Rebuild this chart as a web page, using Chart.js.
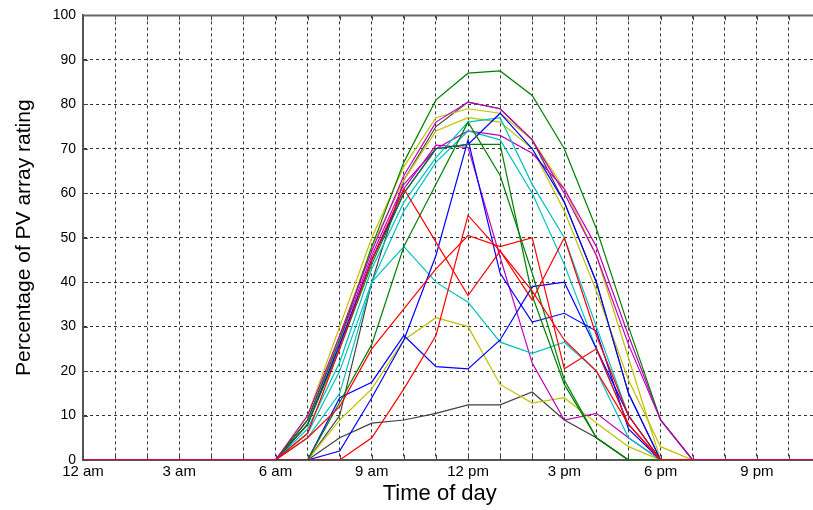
<!DOCTYPE html>
<html>
<head>
<meta charset="utf-8">
<script src="https://cdn.jsdelivr.net/npm/chart.js@4.4.1/dist/chart.umd.min.js"></script>
<style>
  html, body { margin: 0; padding: 0; background: #fff; overflow: hidden; }
  #wrap { width: 824px; height: 510px; }
</style>
</head>
<body>
<div id="wrap"><canvas id="pvChart"></canvas></div>
<script>
// hour of day, 0 = midnight
const hours = [0, 1, 2, 3, 4, 5, 6, 7, 8, 9, 10, 11, 12, 13, 14, 15, 16, 17, 18, 19, 20, 21, 22, 23];
const tickLabels = ["12 am", "3 am", "6 am", "9 am", "12 pm", "3 pm", "6 pm", "9 pm"];
const yTicks = [0, 10, 20, 30, 40, 50, 60, 70, 80, 90, 100];

// % of PV array rating, one value per hour (0..23)
const magentaHigh = [0,0,0,0,0,0, 0,10,28,47,64,76,80.5,79,72,60,46,26,9,0, 0,0,0,0];
const redLate     = [0,0,0,0,0,0, 0,0,0,5,16,28,55,47,36,50,28,10,0,0, 0,0,0,0];
const redDip      = [0,0,0,0,0,0, 0,6,25,45,61,49,37,47,38,27,20,8,0,0, 0,0,0,0];
const redSlow     = [0,0,0,0,0,0, 0,5,12,25,34,43,50.5,48,50,20.5,25,8,0,0, 0,0,0,0];
const greenHigh   = [0,0,0,0,0,0, 0,9,27,48,67,81,87,87.5,82,70,52,30,9,0, 0,0,0,0];
const greenSpike  = [0,0,0,0,0,0, 0,0,13,26,48,62,76,64,42,18,5,0,0,0, 0,0,0,0];
const greenFlat   = [0,0,0,0,0,0, 0,8,25,44,60,70,71,71,37,17,5,0,0,0, 0,0,0,0];
const blueClear   = [0,0,0,0,0,0, 0,8,26,45,60,70,71,78,70,58,40,15,0,0, 0,0,0,0];
const blueSpike   = [0,0,0,0,0,0, 0,0,2,14,27,46,72,42,31,33,29,7,0,0, 0,0,0,0];
const blueValley  = [0,0,0,0,0,0, 0,0,14,17.5,28,21,20.5,27,39,40,25,10,0,0, 0,0,0,0];
const cyanHigh    = [0,0,0,0,0,0, 0,7,22,43,58,68,76,77,62,50,30,10,0,0, 0,0,0,0];
const cyanLow     = [0,0,0,0,0,0, 0,5,15,40,48,40,35.5,26.5,24,26.5,20,5,0,0, 0,0,0,0];
const cyanMid     = [0,0,0,0,0,0, 0,6,20,40,56,67,74,72,60,44,25,8,0,0, 0,0,0,0];
const magentaDrop = [0,0,0,0,0,0, 0,8,26,45,61,70.8,70.3,45.6,21.8,9,10.5,5,0,0, 0,0,0,0];
const magentaMid  = [0,0,0,0,0,0, 0,9,27,46,62,70,74,73,69,61,48,28,9,0, 0,0,0,0];
const yellowHigh  = [0,0,0,0,0,0, 0,10,30,50,66,77,79,78,72,61,46,23,0,0, 0,0,0,0];
const yellowLow   = [0,0,0,0,0,0, 0,0,9,16,27,32,30,17,12.8,14,8.3,3,0,0, 0,0,0,0];
const yellowMid   = [0,0,0,0,0,0, 0,9,28,48,63,74,77,76,70,56,38,18,3,0, 0,0,0,0];
const blackLow    = [0,0,0,0,0,0, 0,0,5,8.3,9,10.5,12.4,12.4,15.3,9,5,0,0,0, 0,0,0,0];
const blackHigh   = [0,0,0,0,0,0, 0,0,10,40,63,75,80.5,79,72,58,40,15,0,0, 0,0,0,0];

// matlab style colour order
const cB = "#0000ff", cG = "#008000", cR = "#ff0000", cC = "#00bfbf",
      cM = "#bf00bf", cY = "#bfbf00", cK = "#404040";

// first entry is drawn on top
const seriesList = [
  [magentaHigh, cM], [redLate, cR], [redDip, cR], [redSlow, cR],
  [greenHigh, cG], [greenSpike, cG], [greenFlat, cG],
  [blueClear, cB], [blueSpike, cB], [blueValley, cB],
  [cyanHigh, cC], [cyanLow, cC], [cyanMid, cC],
  [magentaDrop, cM], [magentaMid, cM],
  [yellowHigh, cY], [yellowLow, cY], [yellowMid, cY],
  [blackLow, cK], [blackHigh, cK]
];

const datasets = seriesList.map(([vals, col]) => ({
  data: vals.map((v, i) => ({ x: hours[i], y: v })),
  borderColor: col,
  borderWidth: 1.2,
  pointRadius: 0,
  tension: 0,
  fill: false
}));

const fontFam = "'Liberation Sans', Arial, sans-serif";

// small inward ticks + top frame line, like the matlab axes box
const frameTicks = {
  id: "frameTicks",
  beforeDatasetsDraw(chart) {
    const { ctx, chartArea: a, scales: { x, y } } = chart;
    ctx.save();
    ctx.strokeStyle = "#444";
    ctx.lineWidth = 1;
    ctx.beginPath();
    hours.forEach(h => {
      const px = Math.round(x.getPixelForValue(h)) + 0.5;
      ctx.moveTo(px, a.bottom); ctx.lineTo(px, a.bottom - 5);
      ctx.moveTo(px, a.top); ctx.lineTo(px, a.top + 5);
    });
    yTicks.forEach(t => {
      const py = Math.round(y.getPixelForValue(t)) + 0.5;
      ctx.moveTo(a.left, py); ctx.lineTo(a.left + 5, py);
    });
    ctx.stroke();
    ctx.restore();
  },
  afterDatasetsDraw(chart) {
    const { ctx, chartArea: a } = chart;
    ctx.save();
    ctx.strokeStyle = "#666";
    ctx.lineWidth = 2;
    ctx.beginPath();
    ctx.moveTo(a.left, a.top);
    ctx.lineTo(a.right, a.top);
    ctx.stroke();
    ctx.restore();
  }
};

new Chart(document.getElementById("pvChart"), {
  type: "line",
  data: { datasets: datasets },
  plugins: [frameTicks],
  options: {
    responsive: true,
    maintainAspectRatio: false,
    animation: false,
    layout: { padding: { top: 15, right: 0, left: 0, bottom: 0 } },
    plugins: { legend: { display: false }, tooltip: { enabled: false } },
    scales: {
      x: {
        type: "linear",
        min: 0,
        max: 23,
        afterBuildTicks: s => { s.ticks = hours.map(h => ({ value: h })); },
        afterFit: s => { s.height = 50; },
        ticks: {
          autoSkip: false,
          maxRotation: 0,
          padding: 3,
          color: "#000",
          font: { family: fontFam, size: 15 },
          callback: v => (v % 3 === 0 ? tickLabels[v / 3] : "")
        },
        grid: { color: "#333", lineWidth: 1, drawTicks: false },
        border: { display: true, color: "#555", width: 2, dash: [3, 3] },
        title: {
          display: true,
          // trailing spaces nudge the centred title left, as in the source image
          text: "Time of day\u00a0\u00a0\u00a0\u00a0",
          color: "#000",
          font: { family: fontFam, size: 22 },
          padding: { top: 0, bottom: 3 }
        }
      },
      y: {
        min: 0,
        max: 100,
        afterBuildTicks: s => { s.ticks = yTicks.map(t => ({ value: t })); },
        afterFit: s => { s.width = 83; },
        ticks: {
          padding: 7,
          color: "#000",
          font: { family: fontFam, size: 14 }
        },
        grid: { color: "#333", lineWidth: 1, drawTicks: false },
        border: { display: true, color: "#555", width: 2, dash: [3, 3] },
        title: {
          display: true,
          text: "Percentage of PV array rating",
          color: "#000",
          font: { family: fontFam, size: 21 },
          padding: { top: 12, bottom: 4 }
        }
      }
    }
  }
});
</script>
</body>
</html>
